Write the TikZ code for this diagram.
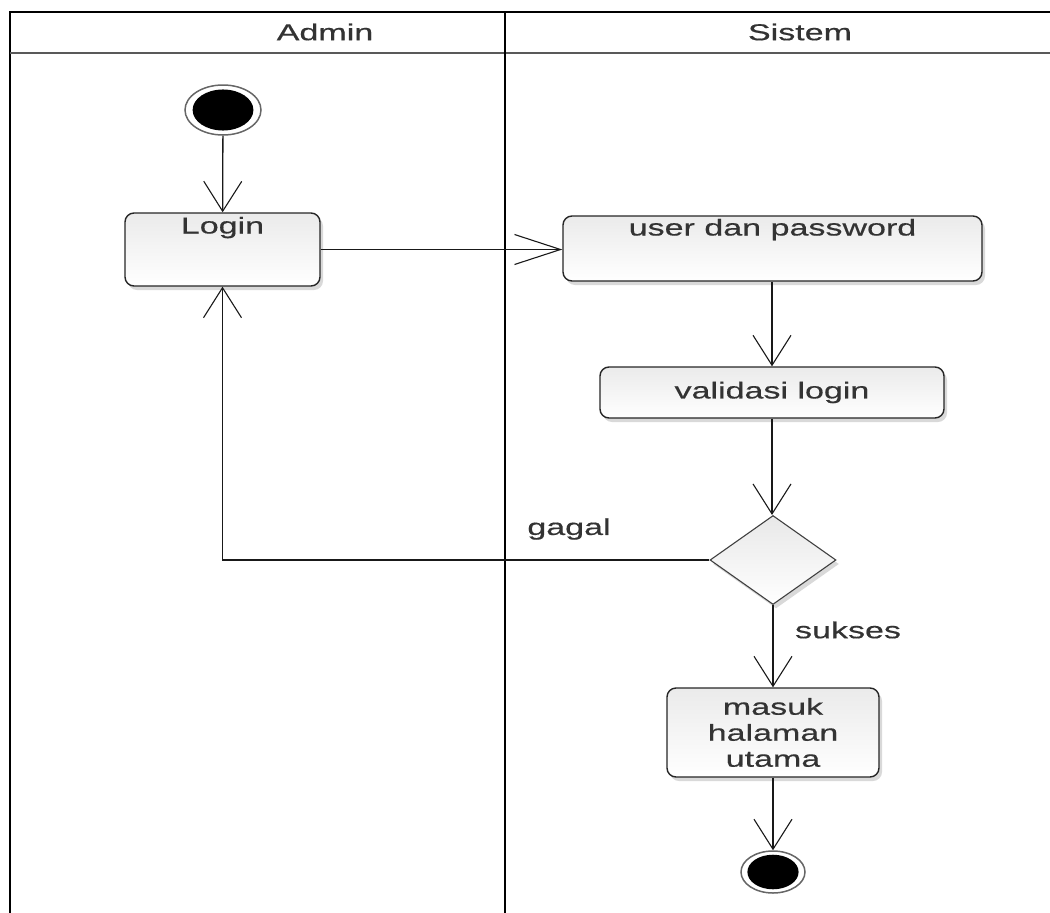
\documentclass[tikz,border=0pt]{standalone}
\usepackage{fontspec}
\newfontfamily\umlfont[FakeStretch=1.48, FakeBold=0.5]{Liberation Sans}
\usetikzlibrary{arrows.meta,shapes.geometric,shadows}

\tikzset{
    lanetext/.style={font=\umlfont\fontsize{23}{26}\selectfont, text=black!80},
    actbox/.style={draw=black!85, line width=1.4pt, rounded corners=9pt,
        top color=gray!16, bottom color=white, inner sep=0pt,
        drop shadow={opacity=0.3, shadow xshift=3pt, shadow yshift=-4pt},
        lanetext, align=center},
    decision/.style={diamond, draw=black!75, line width=1.1pt,
        top color=gray!18, bottom color=white, inner sep=0pt,
        minimum width=126pt, minimum height=89pt,
        drop shadow={opacity=0.3, shadow xshift=3pt, shadow yshift=-4pt}},
    startnode/.style={ellipse, draw=black!60, line width=1.5pt, fill=white,
        minimum width=#1, inner sep=0pt,
        path picture={\fill[black] (path picture bounding box.center)
            ellipse ({0.40*#1} and {0.27*#1});}},
    flow/.style={line width=1.3pt, draw=black!90,
        -{Straight Barb[length=30pt, width=38pt, line width=1.1pt]}},
    flowh/.style={line width=1.3pt, draw=black!90,
        -{Straight Barb[length=46pt, width=30pt, line width=1.1pt]}},
}

\begin{document}
\begin{tikzpicture}[x=1pt, y=-1pt]
    \useasboundingbox (0,0) rectangle (1050,913);

    % -------------------------------
    % swimlanes
    % -------------------------------
    \draw[line width=1.5pt] (10,913) -- (10,12) -- (1050,12);
    \draw[line width=2pt, black!65] (10,53) -- (1050,53);
    \draw[line width=2.6pt] (505,12) -- (505,913);
    \node[lanetext] (admin) at (325,32) {Admin};
    \node[lanetext] (sistem) at (800,32) {Sistem};

    % -------------------------------
    % nodes
    % -------------------------------
    \node[startnode=76pt, minimum height=50pt] (start) at (223,110) {};
    \node[actbox, minimum width=195pt, minimum height=73pt,
        label={[lanetext, anchor=north, yshift=-1pt]north:Login}] (login) at (222.5,249.5) {};
    \node[actbox, minimum width=419pt, minimum height=65pt,
        label={[lanetext, anchor=north, yshift=0pt]north:user dan password}] (userpass) at (772.5,248.5) {};
    \node[actbox, minimum width=344pt, minimum height=51pt] (validasi) at (772,392.5) {validasi login};
    \node[decision] (cek) at (773,560) {};
    \node[actbox, minimum width=212pt, minimum height=89pt] (masuk) at (773,732.5) {masuk\\halaman\\utama};
    \node[startnode=64pt, minimum height=42pt] (finish) at (773,872) {};

    % -------------------------------
    % connectors
    % -------------------------------
    \draw[flow] (start) -- (login);
    \draw[flowh] (login.east) -- (login.east -| userpass.west);
    \draw[flow] (userpass.south -| validasi.north) -- (validasi.north);
    \draw[flow] (validasi.south) -- (validasi.south |- cek.north);
    \draw[flow] (cek.west) -| (login.south);
    \node[lanetext] (gagal) at (569,529) {gagal};
    \draw[flow] (cek.south) -- (cek.south |- masuk.north);
    \node[lanetext] (sukses) at (848,630) {sukses};
    \draw[flow] (masuk.south) -- (masuk.south |- finish.north);

\end{tikzpicture}
\end{document}
